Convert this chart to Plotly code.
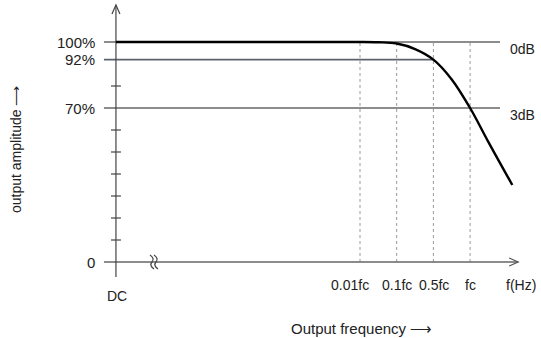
import plotly.graph_objects as go

# ---- data (schematic units: x = label slot index, y = % amplitude) ----
freq_labels = ["0.01fc", "0.1fc", "0.5fc", "fc"]
freq_pos = [1.0, 2.0, 3.0, 4.0]
label_pos = [0.74, 2.01, 3.02, 4.02]
dc_pos = -5.65

level_values = [100, 92, 70, 0]
level_labels = ["100%", "92%", "70%", "0"]
level_ends = [4.815, 3.0, 4.815, 5.31]

db_labels = ["0dB", "3dB"]
db_y = [97.0, 66.8]

tick_levels = [10, 20, 30, 40, 50, 60, 80]

flat_x = [-5.65, 1.0]
flat_y = [100, 100]
curve_x = [1.0, 1.5, 2.0, 2.5, 3.0, 3.5, 4.0, 4.5, 5.15]
curve_y = [100, 99.9, 99.3, 96.8, 92, 83, 70, 54.5, 35]

# ---- geometry helpers (px -> data) ----
PXU = 1 / 36.7   # x units per pixel
PXY = 1 / 2.2    # % per pixel
x_lo = 1 - 360 * PXU
x_hi = 1 + (541 - 360) * PXU
y_hi = 262 * PXY
y_lo = -(338 - 262) * PXY

FONT = "Liberation Sans, Arial, sans-serif"
TXT = "#222222"

fig = go.Figure()

# dotted verticals
for p in freq_pos:
    fig.add_trace(go.Scatter(x=[p, p], y=[0, 100], mode="lines",
                             line=dict(color="#9a9a9a", width=1, dash="dot"),
                             hoverinfo="skip", showlegend=False))

# horizontal reference lines
x_start = dc_pos - 12 * PXU
for lv, xe in zip(level_values, level_ends):
    col = "#666666"
    w = 1.5
    if lv == 92:
        col = "#5c636d"
        w = 1.7
    fig.add_trace(go.Scatter(x=[x_start, xe], y=[lv, lv], mode="lines",
                             line=dict(color=col, width=w),
                             hoverinfo="skip", showlegend=False))

# y axis line
fig.add_trace(go.Scatter(x=[dc_pos, dc_pos], y=[-15 * PXY, 257 * PXY],
                         mode="lines", line=dict(color="#444444", width=1.2),
                         hoverinfo="skip", showlegend=False))

# y axis ticks
for t in tick_levels:
    fig.add_trace(go.Scatter(x=[dc_pos - 5 * PXU, dc_pos + 5 * PXU], y=[t, t], mode="lines",
                             line=dict(color="#444444", width=1.2),
                             hoverinfo="skip", showlegend=False))

# response curve
fig.add_trace(go.Scatter(x=flat_x, y=flat_y, mode="lines",
                         line=dict(color="black", width=2.4),
                         hoverinfo="skip", showlegend=False))
fig.add_trace(go.Scatter(x=curve_x, y=curve_y, mode="lines",
                         line=dict(color="black", width=2.4, shape="spline", smoothing=1.0),
                         hoverinfo="skip", showlegend=False))

shapes = []
# y arrow head
ya = 257 * PXY
shapes.append(dict(type="path", xref="x", yref="y",
                   path=f"M {dc_pos - 4*PXU},{ya - 9*PXY} L {dc_pos},{ya} L {dc_pos + 4*PXU},{ya - 9*PXY}",
                   line=dict(color="#444444", width=1.2)))
# x arrow head
xa = level_ends[3]
shapes.append(dict(type="path", xref="x", yref="y",
                   path=f"M {xa - 9*PXU},{4*PXY} L {xa},0 L {xa - 9*PXU},{-4*PXY}",
                   line=dict(color="#555555", width=1.2)))
# axis break squiggles
bx = 1 + (152 - 360) * PXU
for dx in (0, 4):
    cx = bx + dx * PXU
    shapes.append(dict(type="path", xref="x", yref="y",
                       path=(f"M {cx - 2*PXU},{7*PXY} Q {cx + 3*PXU},{3.5*PXY} {cx},0 "
                             f"Q {cx - 3*PXU},{-3.5*PXY} {cx + 2*PXU},{-7*PXY}"),
                       line=dict(color="#444444", width=1.2)))

ann = []
for lv, lab in zip(level_values, level_labels):
    ann.append(dict(x=dc_pos - 19 * PXU, y=lv, text=lab, showarrow=False, xanchor="right",
                    yanchor="middle", font=dict(family=FONT, size=15, color=TXT)))
for lab, yy in zip(db_labels, db_y):
    ann.append(dict(x=1 + (508 - 360) * PXU, y=yy, text=lab, showarrow=False, xanchor="left",
                    yanchor="middle", font=dict(family=FONT, size=14, color=TXT)))
for lab, p in zip(freq_labels, label_pos):
    ann.append(dict(x=p, y=-23 * PXY, text=lab, showarrow=False, xanchor="center",
                    yanchor="middle", font=dict(family=FONT, size=14, color=TXT)))
ann.append(dict(x=1 + (521 - 360) * PXU, y=-23 * PXY, text="f(Hz)", showarrow=False,
                xanchor="center", yanchor="middle", font=dict(family=FONT, size=14, color=TXT)))
ann.append(dict(x=dc_pos + 1 * PXU, y=-34 * PXY, text="DC", showarrow=False,
                xanchor="center", yanchor="middle", font=dict(family=FONT, size=14, color=TXT)))
ann.append(dict(xref="paper", yref="paper", x=361 / 541, y=1 - 328 / 338,
                text="Output frequency ⟶", showarrow=False, xanchor="center", yanchor="middle",
                font=dict(family=FONT, size=15, color=TXT)))
ann.append(dict(xref="paper", yref="paper", x=16 / 541, y=1 - 150 / 338,
                text="output amplitude ⟶", showarrow=False, xanchor="center", yanchor="middle",
                textangle=-90, font=dict(family=FONT, size=14, color=TXT)))

fig.update_layout(
    width=541, height=338, margin=dict(l=0, r=0, t=0, b=0),
    paper_bgcolor="white", plot_bgcolor="white",
    xaxis=dict(range=[x_lo, x_hi], visible=False, fixedrange=True),
    yaxis=dict(range=[y_lo, y_hi], visible=False, fixedrange=True),
    shapes=shapes, annotations=ann,
)

fig.write_html("out.html")
